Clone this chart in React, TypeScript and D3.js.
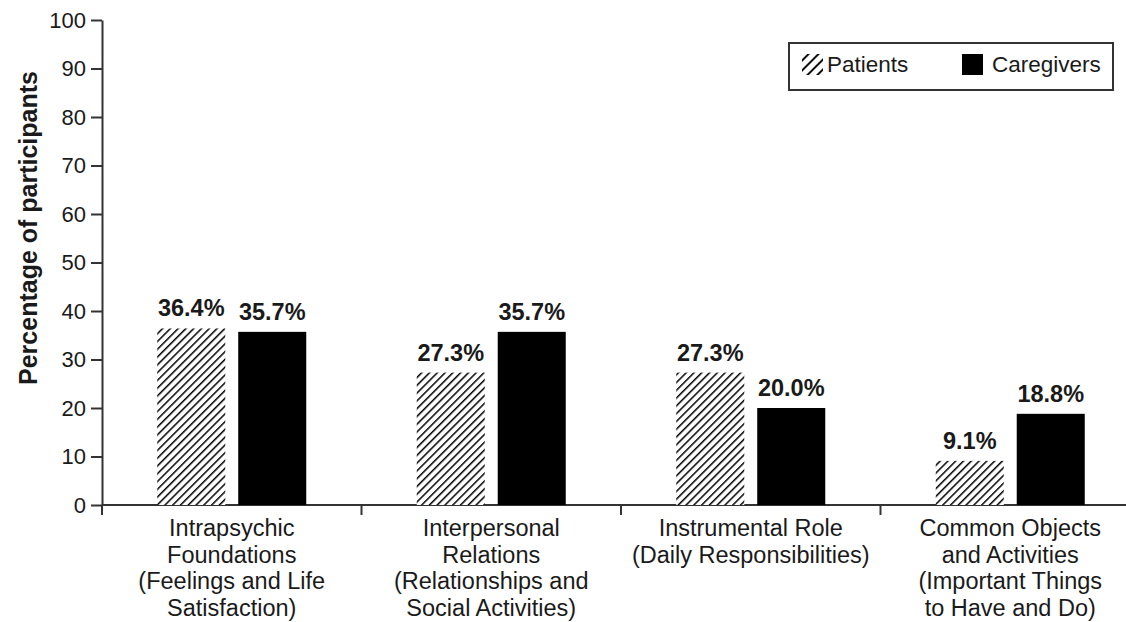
import React, { useEffect, useRef } from 'react';
import * as d3 from 'd3';

const categories = ['Intrapsychic', 'Interpersonal', 'Instrumental', 'Common'];
const categoryLines = [
  ['Intrapsychic', 'Foundations', '(Feelings and Life', 'Satisfaction)'],
  ['Interpersonal', 'Relations', '(Relationships and', 'Social Activities)'],
  ['Instrumental Role', '(Daily Responsibilities)'],
  ['Common Objects', 'and Activities', '(Important Things', 'to Have and Do)'],
];
const seriesNames = ['Patients', 'Caregivers'];
const patients = [36.4, 27.3, 27.3, 9.1];
const caregivers = [35.7, 35.7, 20.0, 18.8];
const yTicks = [0, 10, 20, 30, 40, 50, 60, 70, 80, 90, 100];

const WIDTH = 1126;
const HEIGHT = 622;
const FONT = 'Liberation Sans, Arial, sans-serif';
const INK = '#1a1a1a';

export default function App() {
  const svgRef = useRef<SVGSVGElement>(null);

  useEffect(() => {
    if (!svgRef.current) return;
    const svg = d3.select(svgRef.current);
    svg.selectAll('*').remove();

    const axisX = 102;
    const y = d3.scaleLinear().domain([0, 100]).range([505, 20]);
    const x0 = d3.scaleBand<string>().domain(categories).range([102, 1140]);
    const x1 = d3
      .scaleBand<string>()
      .domain(seriesNames)
      .range([-74.5, 74.5])
      .paddingInner(0.16);

    const defs = svg.append('defs');
    const hatch = defs
      .append('pattern')
      .attr('id', 'hatch')
      .attr('patternUnits', 'userSpaceOnUse')
      .attr('width', 5.5)
      .attr('height', 5.5)
      .attr('patternTransform', 'rotate(45)');
    hatch.append('rect').attr('width', 5.5).attr('height', 5.5).attr('fill', '#fff');
    hatch
      .append('line')
      .attr('x1', 0).attr('y1', 0).attr('x2', 0).attr('y2', 5.5)
      .attr('stroke', '#000').attr('stroke-width', 3);

    const hatchBig = defs
      .append('pattern')
      .attr('id', 'hatchBig')
      .attr('patternUnits', 'userSpaceOnUse')
      .attr('width', 7)
      .attr('height', 7)
      .attr('patternTransform', 'rotate(45)');
    hatchBig.append('rect').attr('width', 7).attr('height', 7).attr('fill', '#fff');
    hatchBig
      .append('line')
      .attr('x1', 0).attr('y1', 0).attr('x2', 0).attr('y2', 7)
      .attr('stroke', '#111').attr('stroke-width', 4);

    // y axis
    const yAxis = svg
      .append('g')
      .attr('transform', `translate(${axisX},0)`)
      .call(d3.axisLeft(y).tickValues(yTicks).tickSize(11).tickPadding(5).tickSizeOuter(0));
    yAxis.select('.domain').attr('stroke', '#333').attr('stroke-width', 2);
    yAxis.selectAll('line').attr('stroke', '#333').attr('stroke-width', 2);
    yAxis
      .selectAll('text')
      .attr('font-family', FONT)
      .attr('font-size', 22)
      .attr('fill', INK);

    // x axis line and category ticks
    svg
      .append('line')
      .attr('x1', axisX).attr('x2', WIDTH)
      .attr('y1', y(0)).attr('y2', y(0))
      .attr('stroke', '#333').attr('stroke-width', 2);
    svg
      .append('g')
      .selectAll('line')
      .data(categories)
      .enter()
      .append('line')
      .attr('x1', (d) => x0(d)!)
      .attr('x2', (d) => x0(d)!)
      .attr('y1', y(0))
      .attr('y2', y(0) + 10)
      .attr('stroke', '#333')
      .attr('stroke-width', 2);

    const rows = categories.map((c, i) => [
      { cat: c, key: 'Patients', value: patients[i] },
      { cat: c, key: 'Caregivers', value: caregivers[i] },
    ]);
    const flat = rows.flat();

    const cx = (d: { cat: string; key: string }) =>
      x0(d.cat)! + x0.bandwidth() / 2 + x1(d.key)!;

    svg
      .append('g')
      .selectAll('rect')
      .data(flat)
      .enter()
      .append('rect')
      .attr('x', (d) => cx(d))
      .attr('y', (d) => y(d.value))
      .attr('width', x1.bandwidth())
      .attr('height', (d) => y(0) - y(d.value))
      .attr('fill', (d) => (d.key === 'Patients' ? 'url(#hatch)' : '#000'));

    svg
      .append('g')
      .selectAll('text')
      .data(flat)
      .enter()
      .append('text')
      .attr('x', (d) => cx(d) + x1.bandwidth() / 2)
      .attr('y', (d) => y(d.value) - 12)
      .attr('text-anchor', 'middle')
      .attr('font-family', FONT)
      .attr('font-size', 23.5)
      .attr('font-weight', 'bold')
      .attr('fill', INK)
      .text((d) => `${d.value.toFixed(1)}%`);

    // category labels
    const labels = svg.append('g');
    categories.forEach((c, i) => {
      const t = labels
        .append('text')
        .attr('x', x0(c)! + x0.bandwidth() / 2)
        .attr('y', 536)
        .attr('text-anchor', 'middle')
        .attr('font-family', FONT)
        .attr('font-size', 23.5)
        .attr('fill', INK);
      categoryLines[i].forEach((line, j) => {
        t.append('tspan')
          .attr('x', x0(c)! + x0.bandwidth() / 2)
          .attr('dy', j === 0 ? 0 : 26.6)
          .text(line);
      });
    });

    // y label
    svg
      .append('text')
      .attr('transform', `translate(37,228) rotate(-90)`)
      .attr('text-anchor', 'middle')
      .attr('font-family', FONT)
      .attr('font-size', 25)
      .attr('font-weight', 'bold')
      .attr('fill', INK)
      .text('Percentage of participants');

    // legend
    const legend = svg.append('g');
    legend
      .append('rect')
      .attr('x', 789).attr('y', 43)
      .attr('width', 324).attr('height', 47)
      .attr('fill', '#fff').attr('stroke', '#333').attr('stroke-width', 2);
    const legendItems = [
      { name: seriesNames[0], fill: 'url(#hatchBig)', sx: 802, tx: 827 },
      { name: seriesNames[1], fill: '#000', sx: 962, tx: 992 },
    ];
    legendItems.forEach((it) => {
      legend
        .append('rect')
        .attr('x', it.sx).attr('y', 54)
        .attr('width', 21).attr('height', 21)
        .attr('fill', it.fill);
      legend
        .append('text')
        .attr('x', it.tx).attr('y', 72)
        .attr('font-family', FONT)
        .attr('font-size', 22.5)
        .attr('fill', INK)
        .text(it.name);
    });
  }, []);

  return (
    <svg
      ref={svgRef}
      width={WIDTH}
      height={HEIGHT}
      style={{ position: 'absolute', left: 0, top: 0, background: '#fff' }}
    />
  );
}
